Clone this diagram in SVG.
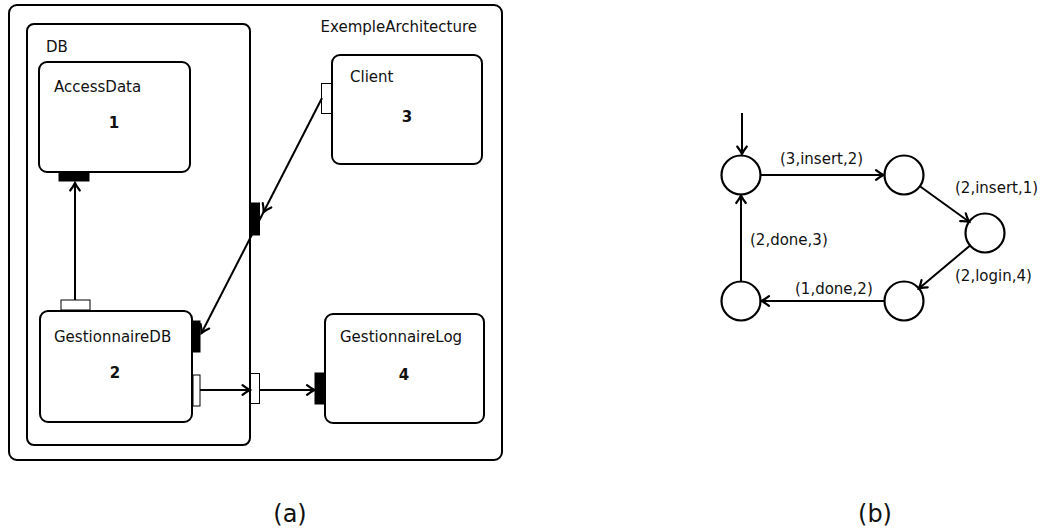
<svg xmlns="http://www.w3.org/2000/svg" width="1040" height="531" viewBox="0 0 1040 531">
<style>
  .box { fill: #fff; stroke: #000; stroke-width: 2; }
  .wport { fill: #fff; stroke: #000; stroke-width: 1; }
  .bport { fill: #000; stroke: #000; stroke-width: 1; }
  .lbl { font-family: "DejaVu Sans", sans-serif; font-size: 15px; fill: #111; }
  .num { font-family: "DejaVu Sans", sans-serif; font-size: 15px; font-weight: bold; fill: #111; text-anchor: middle; }
  .cap { font-family: "DejaVu Sans", sans-serif; font-size: 24px; fill: #111; }
  .edge { stroke: #000; stroke-width: 2; fill: none; marker-end: url(#arr); }
  .state { fill: #fff; stroke: #000; stroke-width: 2.2; }
</style>
<defs>
  <marker id="arr" markerUnits="userSpaceOnUse" markerWidth="12" markerHeight="12" refX="0" refY="0" viewBox="-10 -6 12 12" orient="auto" overflow="visible">
    <path d="M -7.5 -4.8 C -4 -2 -1 -0.5 0 0 C -1 0.5 -4 2 -7.5 4.8" fill="none" stroke="#000" stroke-width="2.2" stroke-linecap="round"/>
  </marker>
</defs>

<!-- (a) architecture -->
<g id="ExempleArchitecture">
  <rect class="box" x="9" y="5" width="493" height="455" rx="8"/>
  <text class="lbl" x="477" y="32" text-anchor="end">ExempleArchitecture</text>
</g>
<g id="DB">
  <rect class="box" x="27" y="24" width="223" height="421" rx="7"/>
  <text class="lbl" x="46" y="52">DB</text>
</g>
<g id="AccessData">
  <rect class="box" x="39" y="62" width="151" height="110" rx="8"/>
  <text class="lbl" x="54" y="92">AccessData</text>
  <text class="num" x="114" y="128">1</text>
  <rect class="bport" x="59" y="172" width="30" height="9"/>
</g>
<g id="GestionnaireDB">
  <rect class="box" x="40" y="311" width="152" height="111" rx="8"/>
  <text class="lbl" x="54" y="342">GestionnaireDB</text>
  <text class="num" x="115" y="378">2</text>
  <rect class="wport" x="61" y="300" width="29" height="10"/>
  <rect class="bport" x="193" y="321" width="7" height="31"/>
  <rect class="wport" x="193" y="375" width="7" height="31"/>
</g>
<g id="Client">
  <rect class="box" x="332" y="55" width="150" height="109" rx="8"/>
  <text class="lbl" x="350" y="82">Client</text>
  <text class="num" x="407" y="122">3</text>
  <rect class="wport" x="321.5" y="83.5" width="10" height="30"/>
</g>
<g id="GestionnaireLog">
  <rect class="box" x="325" y="314" width="159" height="109" rx="8"/>
  <text class="lbl" x="340" y="342">GestionnaireLog</text>
  <text class="num" x="404" y="380">4</text>
  <rect class="bport" x="315" y="373" width="9" height="31"/>
</g>
<g id="DB-ports">
  <rect class="bport" x="250.5" y="203" width="9" height="32"/>
  <rect class="wport" x="250.5" y="373.5" width="9" height="30"/>
</g>
<g id="connectors-a">
  <line class="edge" x1="75" y1="300" x2="75" y2="183"/>
  <line class="edge" x1="322" y1="98" x2="263.6" y2="212"/>
  <line class="edge" x1="263.6" y1="212" x2="201.5" y2="333"/>
  <line class="edge" x1="200" y1="390" x2="250" y2="390"/>
  <line class="edge" x1="260" y1="390" x2="314.5" y2="390"/>
</g>

<!-- (b) state machine -->
<g id="s1"><circle class="state" cx="741" cy="175" r="19.5"/></g>
<g id="s2"><circle class="state" cx="904" cy="175" r="19.5"/></g>
<g id="s3"><circle class="state" cx="985" cy="233" r="19.5"/></g>
<g id="s4"><circle class="state" cx="904" cy="301" r="19.5"/></g>
<g id="s5"><circle class="state" cx="741" cy="301" r="19.5"/></g>
<g id="connectors-b">
  <line class="edge" x1="742" y1="113" x2="742" y2="154"/>
  <line class="edge" x1="760.5" y1="175" x2="883.5" y2="175"/>
  <line class="edge" x1="919.9" y1="186.3" x2="969.1" y2="221.7"/>
  <line class="edge" x1="970.1" y1="245.5" x2="918.9" y2="288.5"/>
  <line class="edge" x1="884.5" y1="301" x2="761.5" y2="301"/>
  <line class="edge" x1="741" y1="281.5" x2="741" y2="195.5"/>
</g>
<g id="labels-b">
  <text class="lbl" x="780" y="164">(3,insert,2)</text>
  <text class="lbl" x="955" y="193">(2,insert,1)</text>
  <text class="lbl" x="750" y="245">(2,done,3)</text>
  <text class="lbl" x="955" y="281">(2,login,4)</text>
  <text class="lbl" x="795" y="294">(1,done,2)</text>
</g>

<text class="cap" x="290" y="522" text-anchor="middle">(a)</text>
<text class="cap" x="875" y="522" text-anchor="middle">(b)</text>
</svg>
